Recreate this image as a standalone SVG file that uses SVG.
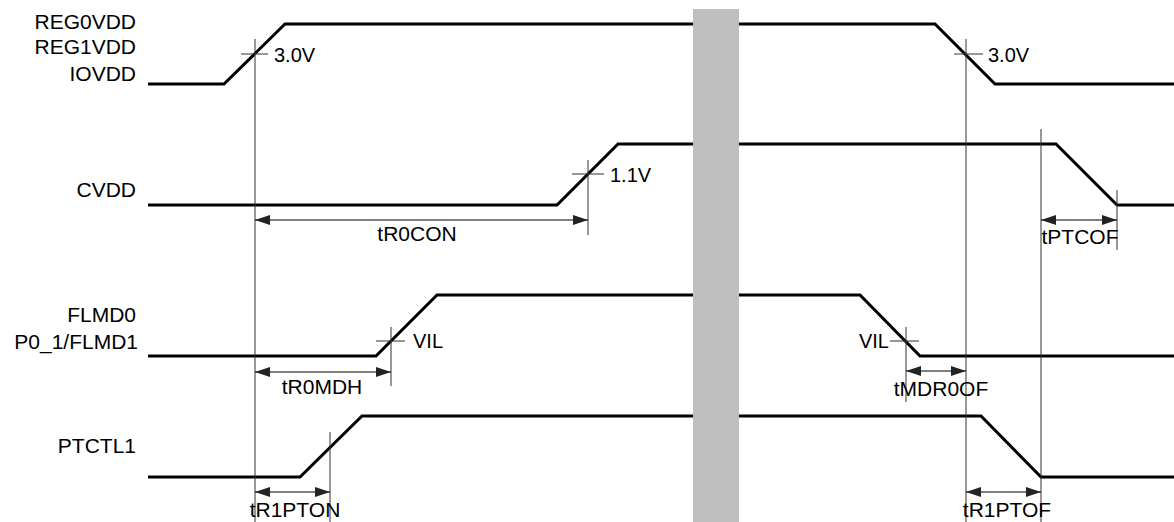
<svg xmlns="http://www.w3.org/2000/svg" width="1174" height="522" viewBox="0 0 1174 522">
<style>
.sig{fill:none;stroke:#000;stroke-width:3;stroke-linejoin:miter}
.ref{stroke:#333;stroke-width:1;fill:none}
.dim{stroke:#000;stroke-width:1;fill:none;marker-start:url(#ah);marker-end:url(#ah)}
text{font-family:"Liberation Sans",Arial,sans-serif;fill:#000}
.lbl{font-size:21px;text-anchor:end}
.tm{font-size:21px;text-anchor:middle}
.v{font-size:20px}
</style>
<defs>
<marker id="ah" viewBox="0 0 15 10" refX="15" refY="5" markerWidth="15" markerHeight="10" markerUnits="userSpaceOnUse" orient="auto-start-reverse">
<path d="M0,0 L15,5 L0,10 Z" fill="#222"/>
</marker>
</defs>
<rect width="1174" height="522" fill="#fff"/>
<g id="signals">
<path class="sig" d="M148,84 L224,84 L285,24 L935,24 L995,84 L1174,84"/>
<path class="sig" d="M148,205 L557,205 L618,144 L1056,144 L1117,205 L1174,205"/>
<path class="sig" d="M148,356 L376,356 L437,295 L860,295 L920,356 L1174,356"/>
<path class="sig" d="M148,477 L300,477 L362,416 L981,416 L1041,477 L1174,477"/>
</g>
<g id="labels">
<text class="lbl" x="136" y="29">REG0VDD</text>
<text class="lbl" x="136" y="54">REG1VDD</text>
<text class="lbl" x="136" y="81">IOVDD</text>
<text class="lbl" x="136" y="197">CVDD</text>
<text class="lbl" x="136" y="322">FLMD0</text>
<text class="lbl" x="138" y="349">P0_1/FLMD1</text>
<text class="lbl" x="136" y="453">PTCTL1</text>
</g>
<g id="connectors">
<line class="ref" x1="255" y1="39" x2="255" y2="522"/>
<line class="ref" x1="966" y1="39" x2="966" y2="522"/>
<line class="ref" x1="588" y1="160" x2="588" y2="235"/>
<line class="ref" x1="1041" y1="129" x2="1041" y2="522"/>
<line class="ref" x1="1117" y1="190" x2="1117" y2="250"/>
<line class="ref" x1="391" y1="327" x2="391" y2="386"/>
<line class="ref" x1="906" y1="327" x2="906" y2="402"/>
<line class="ref" x1="330" y1="432" x2="330" y2="522"/>
<line class="ref" x1="241" y1="54" x2="268" y2="54"/>
<line class="ref" x1="954" y1="54" x2="983" y2="54"/>
<line class="ref" x1="572" y1="174" x2="604" y2="174"/>
<line class="ref" x1="376" y1="341" x2="405" y2="341"/>
<line class="ref" x1="890" y1="341" x2="919" y2="341"/>
<line class="dim" x1="255" y1="220" x2="588" y2="220"/>
<line class="dim" x1="1041" y1="220" x2="1117" y2="220"/>
<line class="dim" x1="255" y1="372" x2="391" y2="372"/>
<line class="dim" x1="906" y1="371" x2="966" y2="371"/>
<line class="dim" x1="255" y1="492" x2="330" y2="492"/>
<line class="dim" x1="966" y1="492" x2="1041" y2="492"/>
</g>
<g id="annotations">
<text class="v" x="274" y="62">3.0V</text>
<text class="v" x="988" y="62">3.0V</text>
<text class="v" x="610" y="182">1.1V</text>
<text class="v" x="413" y="348">VIL</text>
<text class="v" x="889" y="348" text-anchor="end">VIL</text>
<text class="tm" x="417" y="241">tR0CON</text>
<text class="tm" x="1080" y="244">tPTCOF</text>
<text class="tm" x="322" y="394">tR0MDH</text>
<text class="tm" x="941" y="396">tMDR0OF</text>
<text class="tm" x="295" y="517">tR1PTON</text>
<text class="tm" x="1007" y="517">tR1PTOF</text>
</g>
<g id="break">
<rect x="693" y="9" width="46" height="513" fill="#bfbfbf"/>
</g>
</svg>
